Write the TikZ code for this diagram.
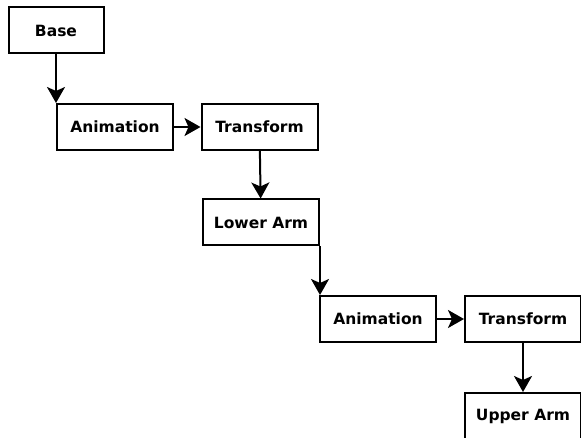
\documentclass[tikz,border=0pt]{standalone}
\usepackage{fontspec}
\setmainfont{DejaVu Sans}
\usetikzlibrary{arrows.meta}
\tikzset{
	block/.style={draw, line width=2pt, font=\bfseries\fontsize{15.5}{18}\selectfont, minimum width=116pt, minimum height=46pt, inner sep=0pt},
	link/.style={line width=2pt, -{Stealth[length=16pt,width=18pt,inset=4pt]}}
}
\begin{document}
\begin{tikzpicture}[x=1pt, y=-1pt]
			%%%%% START %%%%%
			\useasboundingbox (0, 0) rectangle (581, 438);
			\clip (0, 0) rectangle (581, 438);
			
			\node[block, minimum width=95pt] (base) at (56, 30.5) {Base};
			
			\node[block] (anim1) at (115, 127) {Animation};
			\node[block] (trans1) at (259.5, 127) {Transform};
			\node[block] (lower) at (261, 222.5) {Lower Arm};
			
			\node[block] (anim2) at (378, 319) {Animation};
			\node[block] (trans2) at (523, 319) {Transform};
			\node[block] (upper) at (523, 416) {Upper Arm};
			
			\draw[link] (base.south) -- (base.south |- anim1.north);
			\draw[link] (anim1) -- (trans1);
			\draw[link] (trans1) -- (lower);
			\draw[link] (lower.south east) -- (lower.south east |- anim2.north);
			\draw[link] (anim2) -- (trans2);
			\draw[link] (trans2) -- (upper);
			
			%%%%% END %%%%%
\end{tikzpicture}
\end{document}
